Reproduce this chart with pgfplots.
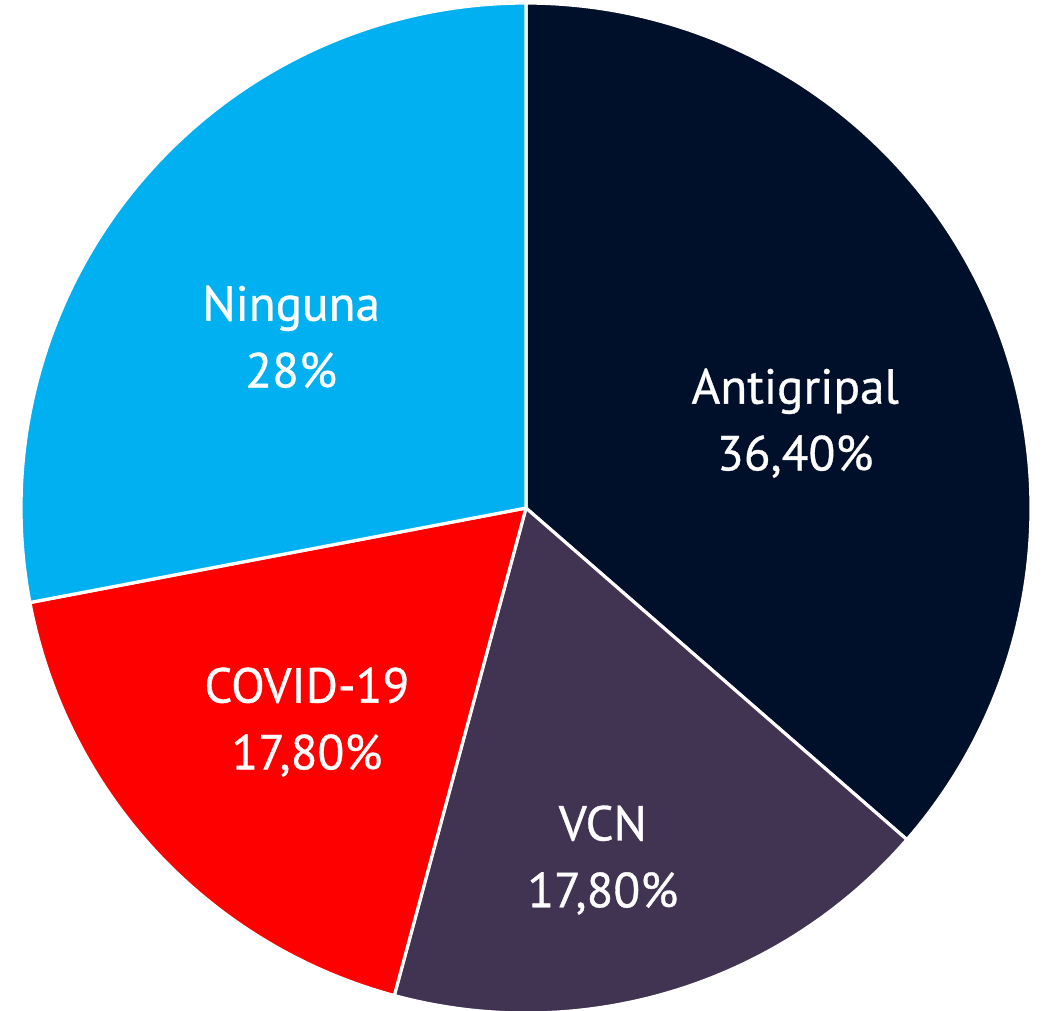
\documentclass[border=0pt]{standalone}
\usepackage{pgfplots}
\pgfplotsset{compat=1.18}
\usepackage{fontspec}
\setmainfont{PT Sans}
\newfontfamily\lab[FakeBold=0.7]{PT Sans}
\definecolor{cA}{HTML}{00102B}
\definecolor{cB}{HTML}{413352}
\definecolor{cC}{HTML}{FF0000}
\definecolor{cD}{HTML}{00B0F0}
% data (percent)
\def\vA{36.4}% Antigripal
\def\vB{17.8}% VCN
\def\vC{17.8}% COVID-19
\def\vD{28}% Ninguna
\pgfmathsetmacro\aA{90}
\pgfmathsetmacro\aB{\aA-3.6*\vA}
\pgfmathsetmacro\aC{\aB-3.6*\vB}
\pgfmathsetmacro\aD{\aC-3.6*\vC}
\pgfmathsetmacro\aE{\aD-3.6*\vD}
\begin{document}
\begin{tikzpicture}
\begin{axis}[x=5.05cm,y=5.05cm,xmin=-1.0416,xmax=1.0297,ymin=-0.994,ymax=1.006,
  hide axis, clip=true]
\addplot[fill=cA, draw=white, line width=0.9pt, domain=\aB:\aA, samples=120, variable=\t] ({cos(\t)},{sin(\t)}) -- (axis cs:0,0) -- cycle;
\addplot[fill=cB, draw=white, line width=0.9pt, domain=\aC:\aB, samples=80, variable=\t] ({cos(\t)},{sin(\t)}) -- (axis cs:0,0) -- cycle;
\addplot[fill=cC, draw=white, line width=0.9pt, domain=\aD:\aC, samples=80, variable=\t] ({cos(\t)},{sin(\t)}) -- (axis cs:0,0) -- cycle;
\addplot[fill=cD, draw=white, line width=0.9pt, domain=\aE:\aD, samples=100, variable=\t] ({cos(\t)},{sin(\t)}) -- (axis cs:0,0) -- cycle;
\node[align=center, text=white, font=\lab\fontsize{14}{19}\selectfont] at (axis cs:0.533,0.168) {Antigripal\\36,40\%};
\node[align=center, text=white, font=\lab\fontsize{14}{19}\selectfont] at (axis cs:0.152,-0.697) {VCN\\17,80\%};
\node[align=center, text=white, font=\lab\fontsize{14}{19}\selectfont] at (axis cs:-0.434,-0.424) {COVID-19\\17,80\%};
\node[align=center, text=white, font=\lab\fontsize{14}{19}\selectfont] at (axis cs:-0.465,0.339) {Ninguna\\28\%};
\end{axis}
\pgfresetboundingbox
\useasboundingbox (current axis.south west) rectangle (current axis.north east);
\end{tikzpicture}
\end{document}
